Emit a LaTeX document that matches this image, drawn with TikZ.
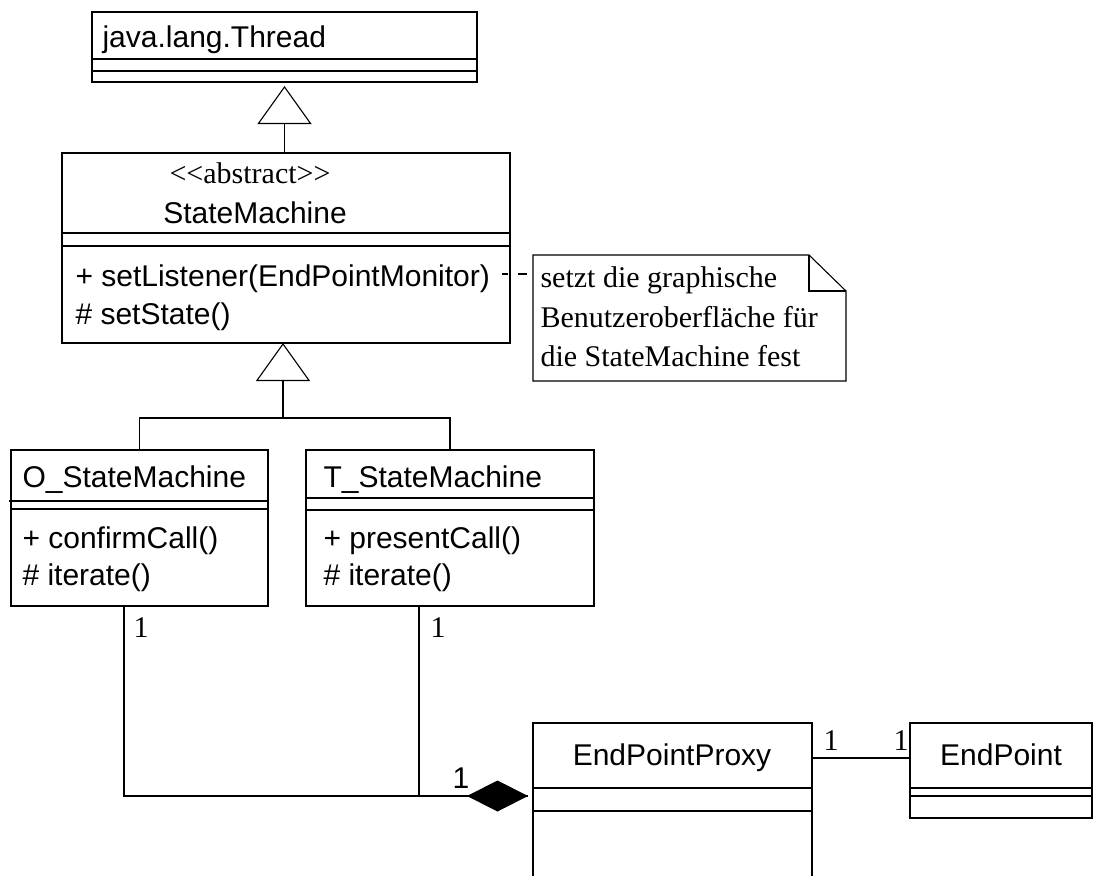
\documentclass[tikz,border=0pt]{standalone}
\usepackage{fontspec}
\setmainfont{Liberation Serif}
\setsansfont{Liberation Sans}
\newfontfamily\plainserif{Liberation Serif}
\usetikzlibrary{arrows.meta,calc}

\tikzset{
  classbox/.style={draw, rectangle, inner sep=0pt, outer sep=0pt, anchor=north west},
  sanstext/.style={font=\sffamily\fontsize{30}{36}\selectfont, inner sep=0pt, anchor=base west},
  seriftext/.style={font=\plainserif\fontsize{30}{36}\selectfont, inner sep=0pt, anchor=base west},
  inherit/.style={-{Triangle[open, length=38pt, width=54pt]}},
  compose/.style={-{Diamond[length=61pt, width=31pt, fill=black]}},
  notelink/.style={dash pattern=on 6pt off 10pt on 9pt off 6pt},
}

% class box: name, x1, y1, x2, y2 (pixel-like units, y grows downwards)
\newcommand\umlclass[5]{%
  \node[classbox, minimum width={#4pt-#2pt}, minimum height={#5pt-#3pt}] (#1) at (#2,#3) {};}
% compartment separator at a given depth below the top edge
\newcommand\umlsep[2]{%
  \draw ($(#1.north west)+(0,#2)$) -- ($(#1.north east)+(0,#2)$);}

\begin{document}
\begin{tikzpicture}[x=1pt, y=-1pt, line width=1.1pt]
  \clip (0,0) rectangle (1093,876);

  % classes
  \umlclass{thr}{92}{12}{477}{82}
  \umlsep{thr}{47} \umlsep{thr}{59}
  \node[sanstext] (thrname) at (102,47) {java.lang.Thread};

  \umlclass{sm}{62}{153}{510}{343}
  \umlsep{sm}{80} \umlsep{sm}{93}
  \node[seriftext, anchor=base] (smst) at (250,183) {<<abstract>>};
  \node[sanstext, anchor=base] (smname) at (255,223) {StateMachine};
  \node[sanstext] (smop1) at (75,286) {+ setListener(EndPointMonitor)};
  \node[sanstext] (smop2) at (75,324) {\# setState()};

  \umlclass{osm}{11}{450}{268}{606}
  \draw ($(osm.north west)+(-2,51)$) -- ($(osm.north east)+(0,51)$);
  \umlsep{osm}{59}
  \node[sanstext] (osmname) at (22,487) {O\_StateMachine};
  \node[sanstext] (osmop1) at (22,548) {+ confirmCall()};
  \node[sanstext] (osmop2) at (22,585) {\# iterate()};

  \umlclass{tsm}{306}{450}{594}{606}
  \umlsep{tsm}{48} \umlsep{tsm}{60}
  \node[sanstext] (tsmname) at (323,487) {T\_StateMachine};
  \node[sanstext] (tsmop1) at (323,548) {+ presentCall()};
  \node[sanstext] (tsmop2) at (323,585) {\# iterate()};

  \umlclass{epp}{533}{723}{812}{900}
  \umlsep{epp}{65} \umlsep{epp}{88}
  \node[sanstext, anchor=base] (eppname) at (672,765) {EndPointProxy};

  \umlclass{ep}{910}{723}{1092}{818}
  \umlsep{ep}{65} \umlsep{ep}{73}
  \node[sanstext, anchor=base] (epname) at (1001,765) {EndPoint};

  % note with folded corner
  \node[rectangle, inner sep=0pt, outer sep=0pt, anchor=north west,
        minimum width=313pt, minimum height=126pt] (note) at (533,255) {};
  \draw (note.north west) -- ($(note.north east)+(-37,0)$)
        -- ($(note.north east)+(0,36)$) -- (note.south east)
        -- (note.south west) -- cycle;
  \draw ($(note.north east)+(-37,0)$) |- ($(note.north east)+(0,36)$);
  \node[seriftext] (note1) at (540,287) {setzt die graphische};
  \node[seriftext] (note2) at (540,327) {Benutzeroberfläche für};
  \node[seriftext] (note3) at (540,366) {die StateMachine fest};
  \draw[notelink, shorten <=-8pt] ($(sm.north east)+(0,121)$) -- ($(note.north west)+(0,19)$);

  % generalisations
  \draw[inherit, shorten >=4pt] (sm.north -| thr.south) -- (thr.south);
  \coordinate (join) at (283,418);
  \draw (osm.north) |- (join) -| (tsm.north);
  \draw[inherit] (join) -- (sm.south -| join);

  % composition towards EndPointProxy
  \coordinate (cmp) at ($(epp.north west)+(0,73)$);
  \draw[shorten >=5pt] ($(tsm.south west)+(113,0)$) |- (cmp);
  \draw[compose, shorten >=5pt] ($(osm.south west)+(113,0)$) |- (cmp);
  \draw[line width=2.2pt] ($(osm.south west)+(205,190)$) -- ($(osm.south west)+(386,190)$);

  % association EndPointProxy -- EndPoint
  \draw ($(epp.north east)+(0,35)$) -- ($(ep.north west)+(0,35)$);

  % multiplicities
  \node[seriftext] (m1) at (133,637) {1};
  \node[seriftext] (m2) at (430,637) {1};
  \node[sanstext] (m3) at (452,788) {1};
  \node[seriftext] (m4) at (823,750) {1};
  \node[seriftext] (m5) at (893,750) {1};
\end{tikzpicture}
\end{document}
